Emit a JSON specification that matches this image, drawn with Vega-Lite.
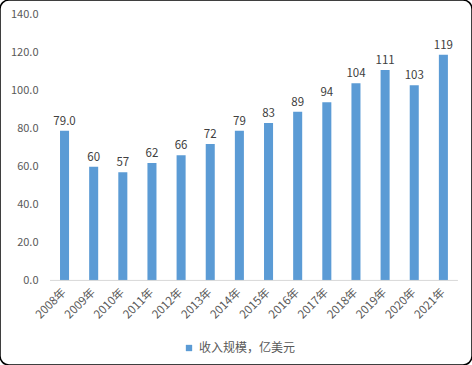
{
  "$schema": "https://vega.github.io/schema/vega-lite/v6.json",
  "autosize": {"type": "none"},
  "padding": 0,
  "width": 472,
  "height": 365,
  "background": "#ffffff",
  "config": {
    "view": {"stroke": "#000000", "strokeWidth": 1.5, "cornerRadius": 9},
    "font": "Noto Sans CJK SC"
  },
  "datasets": {
    "bars": [
      {"year": "2008年", "value": 79.0, "label": "79.0", "series": "收入规模，亿美元"},
      {"year": "2009年", "value": 60, "label": "60", "series": "收入规模，亿美元"},
      {"year": "2010年", "value": 57, "label": "57", "series": "收入规模，亿美元"},
      {"year": "2011年", "value": 62, "label": "62", "series": "收入规模，亿美元"},
      {"year": "2012年", "value": 66, "label": "66", "series": "收入规模，亿美元"},
      {"year": "2013年", "value": 72, "label": "72", "series": "收入规模，亿美元"},
      {"year": "2014年", "value": 79, "label": "79", "series": "收入规模，亿美元"},
      {"year": "2015年", "value": 83, "label": "83", "series": "收入规模，亿美元"},
      {"year": "2016年", "value": 89, "label": "89", "series": "收入规模，亿美元"},
      {"year": "2017年", "value": 94, "label": "94", "series": "收入规模，亿美元"},
      {"year": "2018年", "value": 104, "label": "104", "series": "收入规模，亿美元"},
      {"year": "2019年", "value": 111, "label": "111", "series": "收入规模，亿美元"},
      {"year": "2020年", "value": 103, "label": "103", "series": "收入规模，亿美元"},
      {"year": "2021年", "value": 119, "label": "119", "series": "收入规模，亿美元"}
    ],
    "base": [{"from": "2008年", "to": "2021年", "zero": 0}]
  },
  "encoding": {
    "x": {
      "field": "year",
      "type": "nominal",
      "sort": null,
      "scale": {
        "domain": [" ", "  ", "2008年", "2009年", "2010年", "2011年", "2012年", "2013年", "2014年", "2015年", "2016年", "2017年", "2018年", "2019年", "2020年", "2021年"],
        "paddingInner": 0.69,
        "paddingOuter": 0.443,
        "align": 0.067
      },
      "axis": {
        "title": null,
        "domain": false,
        "ticks": false,
        "offset": -84.5,
        "labelAngle": -45,
        "labelAlign": "right",
        "labelBaseline": "middle",
        "labelPadding": 10,
        "labelFontSize": 11.5,
        "labelColor": "#595959",
        "labelFont": "Noto Sans CJK SC"
      }
    }
  },
  "layer": [
    {
      "data": {"name": "bars"},
      "mark": {"type": "bar", "color": "#5B9BD5"},
      "encoding": {
        "y": {
          "field": "value",
          "type": "quantitative",
          "scale": {"domain": [-44.6, 147.9], "nice": false, "zero": false},
          "axis": {
            "title": null,
            "values": [0, 20, 40, 60, 80, 100, 120, 140],
            "format": ".1f",
            "domain": false,
            "ticks": false,
            "grid": false,
            "offset": -40,
            "labelPadding": 2,
            "labelFontSize": 11,
            "labelColor": "#595959",
            "labelFont": "Noto Sans CJK SC"
          }
        },
        "y2": {"datum": 0},
        "color": {
          "field": "series",
          "type": "nominal",
          "scale": {"range": ["#5B9BD5"]},
          "legend": {
            "title": null,
            "orient": "none",
            "legendX": 183,
            "legendY": 342,
            "symbolType": "square",
            "symbolSize": 40,
            "symbolStrokeWidth": 0,
            "labelFontSize": 12,
            "labelColor": "#595959",
            "labelFont": "Noto Sans CJK SC",
            "padding": 0,
            "labelOffset": 4
          }
        }
      }
    },
    {
      "data": {"name": "bars"},
      "mark": {"type": "text", "baseline": "bottom", "dy": -4, "fontSize": 11.5, "color": "#404040", "font": "Noto Sans CJK SC"},
      "encoding": {
        "y": {"field": "value", "type": "quantitative"},
        "text": {"field": "label"}
      }
    },
    {
      "data": {"name": "base"},
      "mark": {"type": "rule", "color": "#D9D9D9", "strokeWidth": 1},
      "encoding": {
        "x": {"field": "from", "type": "nominal", "bandPosition": -1.107},
        "x2": {"field": "to", "bandPosition": 2.11},
        "y": {"field": "zero", "type": "quantitative"}
      }
    }
  ]
}
